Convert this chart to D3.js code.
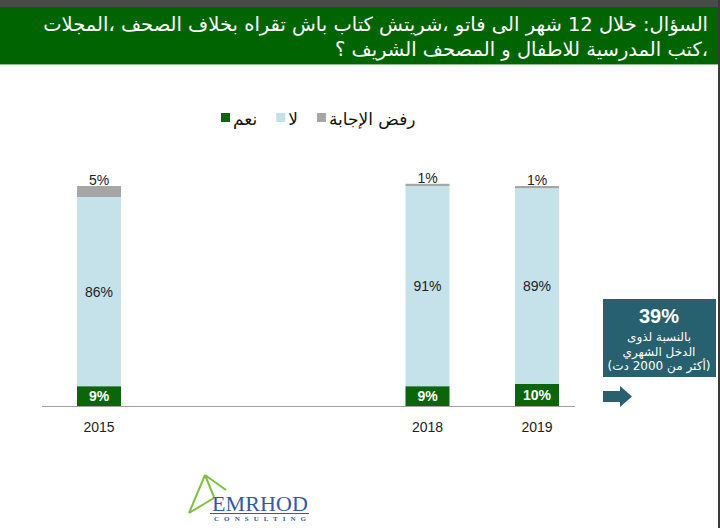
<!DOCTYPE html>
<html>
<head>
<meta charset="utf-8">
<script src="https://cdn.jsdelivr.net/npm/d3@7"></script>
<style>
  body { margin: 0; background: #fff; }
  svg { display: block; }
</style>
</head>
<body>
<script>
// values (percent)
const years = [2015, 2018, 2019];
const yes = [9, 9, 10];        // نعم
const no = [86, 91, 89];       // لا
const refused = [5, 1, 1];     // رفض الإجابة

const legendLabels = ['نعم', 'لا', 'رفض الإجابة'];
const titleLines = [
  'السؤال: خلال 12 شهر الى فاتو ،شريتش كتاب باش تقراه بخلاف الصحف ،المجلات',
  '،كتب المدرسية للاطفال و المصحف الشريف ؟'
];
const calloutValue = '39%';
const calloutLines = ['بالنسبة لذوى', 'الدخل الشهري', '(أكثر من 2000 دت)'];

const colors = { yes: '#0b650b', no: '#c5e1ea', refused: '#a6a6a6' };
const arabicFont = '"DejaVu Sans", sans-serif';
const numFont = '"Liberation Sans", Arial, sans-serif';

var W = 720, H = 528;
var svg = d3.select('body').append('svg')
    .attr('width', W)
    .attr('height', H);

// frame: dark top strip, right edge, green title band
svg.append('rect').attr('x', 0).attr('y', 0).attr('width', W).attr('height', 7).attr('fill', '#4a4a4a');
svg.append('rect').attr('x', 718).attr('y', 0).attr('width', 2).attr('height', H).attr('fill', '#3a3a3a');
svg.append('rect').attr('x', 0).attr('y', 7).attr('width', 718).attr('height', 57)
    .attr('fill', '#006400');
svg.append('line').attr('x1', 0).attr('x2', 718).attr('y1', 64.5).attr('y2', 64.5)
    .attr('stroke', '#8fbf8f').attr('stroke-width', 1);

svg.append('g').selectAll('text')
    .data(titleLines)
  .enter().append('text')
    .attr('x', 708)
    .attr('y', function(d, i) { return 31 + i * 25; })
    .attr('direction', 'rtl')
    .attr('text-anchor', 'start')
    .attr('fill', '#fff')
    .style('font-family', arabicFont)
    .style('font-size', '19.5px')
    .text(function(d) { return d; });

// scales
var x = d3.scaleLinear().domain([2015, 2019]).range([99, 537]);
var y = d3.scaleLinear().domain([0, 100]).range([406, 186]);
var barW = 44;

var rows = years.map(function(yr, i) {
  return { year: yr, yes: yes[i], no: no[i], refused: refused[i] };
});
var keys = ['yes', 'no', 'refused'];
var series = d3.stack().keys(keys)(rows);

var g = svg.append('g');

g.selectAll('g.layer')
    .data(series)
  .enter().append('g')
    .attr('class', 'layer')
    .attr('fill', function(d) { return colors[d.key]; })
  .selectAll('rect')
    .data(function(d) { return d; })
  .enter().append('rect')
    .attr('x', function(d) { return x(d.data.year) - barW / 2; })
    .attr('width', barW)
    .attr('y', function(d) { return y(d[1]); })
    .attr('height', function(d) { return y(d[0]) - y(d[1]); });

// baseline
svg.append('line')
    .attr('x1', 42).attr('x2', 575)
    .attr('y1', y(0) + 0.5).attr('y2', y(0) + 0.5)
    .attr('stroke', '#a0a0a0').attr('stroke-width', 1);

// segment labels
var yesLayer = series[0], noLayer = series[1], refLayer = series[2];

g.selectAll('text.yes')
    .data(yesLayer)
  .enter().append('text')
    .attr('x', function(d) { return x(d.data.year); })
    .attr('y', function(d) { return (y(d[0]) + y(d[1])) / 2 + 5; })
    .attr('text-anchor', 'middle')
    .attr('fill', '#fff')
    .style('font-family', numFont)
    .style('font-size', '14px')
    .style('font-weight', 'bold')
    .text(function(d) { return d.data.yes + '%'; });

g.selectAll('text.no')
    .data(noLayer)
  .enter().append('text')
    .attr('x', function(d) { return x(d.data.year); })
    .attr('y', function(d) { return (y(d[0]) + y(d[1])) / 2 + 5; })
    .attr('text-anchor', 'middle')
    .attr('fill', '#222')
    .style('font-family', numFont)
    .style('font-size', '14px')
    .text(function(d) { return d.data.no + '%'; });

g.selectAll('text.ref')
    .data(refLayer)
  .enter().append('text')
    .attr('x', function(d) { return x(d.data.year); })
    .attr('y', function(d) { return y(d[1]) - 1; })
    .attr('text-anchor', 'middle')
    .attr('fill', '#222')
    .style('font-family', numFont)
    .style('font-size', '14px')
    .text(function(d) { return d.data.refused + '%'; });

// year labels
g.selectAll('text.year')
    .data(years)
  .enter().append('text')
    .attr('x', function(d) { return x(d); })
    .attr('y', 432)
    .attr('text-anchor', 'middle')
    .attr('fill', '#222')
    .style('font-family', numFont)
    .style('font-size', '14px')
    .text(function(d) { return d; });

// legend
var legend = svg.append('g').attr('transform', 'translate(221,0)');
var lx = 0;
keys.forEach(function(k, i) {
  var item = legend.append('g').attr('transform', 'translate(' + lx + ',0)');
  item.append('rect')
      .attr('x', 0).attr('y', 113)
      .attr('width', 9).attr('height', 9)
      .attr('fill', colors[k]);
  var t = item.append('text')
      .attr('x', 12).attr('y', 125)
      .attr('fill', '#111')
      .style('font-family', arabicFont)
      .style('font-size', '17px')
      .text(legendLabels[i]);
  lx += 12 + t.node().getComputedTextLength() + 19;
});

// callout box
var call = svg.append('g');
call.append('rect')
    .attr('x', 603).attr('y', 299)
    .attr('width', 113).attr('height', 78)
    .attr('fill', '#27606f');
call.append('text')
    .attr('x', 659).attr('y', 323)
    .attr('text-anchor', 'middle')
    .attr('fill', '#fff')
    .style('font-family', numFont)
    .style('font-size', '20px')
    .style('font-weight', 'bold')
    .text(calloutValue);
call.selectAll('text.line')
    .data(calloutLines)
  .enter().append('text')
    .attr('x', 659)
    .attr('y', function(d, i) { return 341 + i * 14.5; })
    .attr('text-anchor', 'middle')
    .attr('direction', 'rtl')
    .attr('fill', '#fff')
    .style('font-family', arabicFont)
    .style('font-size', '12px')
    .text(function(d) { return d; });

// arrow
call.append('path')
    .attr('d', 'M603,391 L620,391 L620,386 L632,396.5 L620,407 L620,402 L603,402 Z')
    .attr('fill', '#27606f');

// logo
var logo = svg.append('g');
logo.append('path')
    .attr('d', 'M205,475 L189,513 M205,475 L214,497 M205,475 L226,490 M189,513 L214,498')
    .attr('stroke', '#7cc242').attr('stroke-width', 2).attr('fill', 'none');
logo.append('text')
    .attr('x', 212).attr('y', 511)
    .attr('fill', '#2f5aa8')
    .attr('textLength', 96)
    .style('font-family', '"Liberation Serif", "DejaVu Serif", serif')
    .style('font-size', '22px')
    .text('EMRHOD');
logo.append('line')
    .attr('x1', 210).attr('x2', 309).attr('y1', 513.5).attr('y2', 513.5)
    .attr('stroke', '#2f5aa8').attr('stroke-width', 1);
logo.append('text')
    .attr('x', 214).attr('y', 521)
    .attr('fill', '#2f5aa8')
    .attr('textLength', 92)
    .style('font-family', '"Liberation Serif", "DejaVu Serif", serif')
    .style('font-size', '7px')
    .style('font-weight', 'bold')
    .text('CONSULTING');
</script>
</body>
</html>
